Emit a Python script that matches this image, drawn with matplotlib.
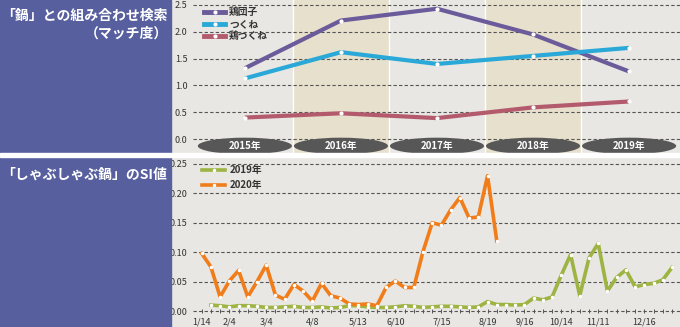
import matplotlib
matplotlib.use("Agg")
import matplotlib.pyplot as plt
from matplotlib.patches import Ellipse, Rectangle
from matplotlib.lines import Line2D
import numpy as np

plt.rcParams['font.family'] = ['Noto Sans CJK JP', 'DejaVu Sans']

# ---------------- data ----------------
years = ["2015年", "2016年", "2017年", "2018年", "2019年"]
top_series_names = ["鶏団子", "つくね", "鶏つくね"]
tori_dango = [1.32, 2.21, 2.43, 1.95, 1.26]
tsukune = [1.13, 1.62, 1.40, 1.55, 1.70]
tori_tsukune = [0.40, 0.48, 0.39, 0.59, 0.70]

week_labels = ["1/14", "2/4", "3/4", "4/8", "5/13", "6/10", "7/15", "8/19",
               "9/16", "10/14", "11/11", "12/16"]
week_label_idx = [0, 3, 7, 12, 17, 21, 26, 31, 35, 39, 43, 48]

si_2020 = [0.098, 0.075, 0.024, 0.051, 0.069, 0.024, 0.050, 0.078, 0.027,
           0.020, 0.045, 0.034, 0.017, 0.047, 0.026, 0.022, 0.012, 0.011,
           0.012, 0.009, 0.040, 0.051, 0.040, 0.040, 0.101, 0.150, 0.146,
           0.172, 0.193, 0.158, 0.160, 0.230, 0.119]
si_2019 = [0.010, 0.009, 0.007, 0.009, 0.009, 0.008, 0.006, 0.006, 0.007,
           0.008, 0.006, 0.006, 0.007, 0.005, 0.006, 0.009, 0.009, 0.007,
           0.006, 0.006, 0.007, 0.009, 0.008, 0.006, 0.007, 0.008, 0.008,
           0.007, 0.006, 0.007, 0.016, 0.011, 0.011, 0.010, 0.011, 0.022,
           0.019, 0.024, 0.061, 0.096, 0.026, 0.090, 0.115, 0.034, 0.057,
           0.070, 0.041, 0.045, 0.047, 0.053, 0.074]
si_2019_start = 1

# ---------------- style ----------------
W, H = 680, 327
BLUE = "#575f9e"
BG = "#e9e7e3"
BAND = "#e6e0cc"
GRID = "#555555"
C_PURPLE = "#6b5b9b"
C_CYAN = "#2aa9d8"
C_RED = "#b45a6d"
C_ORANGE = "#f07d1a"
C_GREEN = "#9db443"

fig = plt.figure(figsize=(W / 100, H / 100), dpi=100, facecolor=BG)

def fr(x0, y0, x1, y1):
    # pixel box (top-left origin) -> figure fraction
    return [x0 / W, (H - y1) / H, (x1 - x0) / W, (y1 - y0) / H]

# left blue panels and white separator
fig.patches.append(Rectangle((0, (H - 153) / H), 171 / W, 153 / H,
                             transform=fig.transFigure, color=BLUE, zorder=0))
fig.patches.append(Rectangle((0, 0), 171 / W, (H - 157) / H,
                             transform=fig.transFigure, color=BLUE, zorder=0))
fig.patches.append(Rectangle((0, (H - 157) / H), 1, 4 / H,
                             transform=fig.transFigure, color="white", zorder=0))

fig.text(84 / W, 1 - 16 / H, "「鍋」との組み合わせ検索", color="white",
         fontsize=10, fontweight="bold", ha="center", va="center")
fig.text(168 / W, 1 - 34 / H, "（マッチ度）", color="white",
         fontsize=10, fontweight="bold", ha="right", va="center")
fig.text(84 / W, 1 - 175 / H, "「しゃぶしゃぶ鍋」のSI値", color="white",
         fontsize=10, fontweight="bold", ha="center", va="center")

# ---------------- top chart ----------------
ax1 = fig.add_axes(fr(193, 0, 680, 153))
ax1.set_facecolor(BG)
x = np.arange(len(years))
ax1.set_xlim(-0.54, 4.53)
ax1.set_ylim(-0.261, 2.593)
for i in x:
    if i % 2 == 1:
        ax1.axvspan(i - 0.5, i + 0.5, color=BAND, zorder=0, lw=0)
for b in [0.5, 1.5, 2.5, 3.5]:
    ax1.axvline(b, color="white", lw=1, zorder=0.5)
for v in np.arange(0, 2.51, 0.5):
    ax1.axhline(v, color=GRID, lw=0.8, ls=(0, (3, 2)), zorder=1)

for vals, c, name in [(tori_dango, C_PURPLE, top_series_names[0]),
                      (tsukune, C_CYAN, top_series_names[1]),
                      (tori_tsukune, C_RED, top_series_names[2])]:
    ax1.plot(x, vals, color=c, lw=3, marker="o", ms=2, mfc="white",
             mec="white", zorder=3, label=name, solid_capstyle="butt")

for i, y in enumerate(years):
    ax1.add_patch(Ellipse((i, -0.13), 0.98, 0.31, color="#575757", zorder=2,
                          lw=0))
    ax1.text(i, -0.13, y, color="white", fontsize=7, fontweight="bold",
             ha="center", va="center", zorder=4)

ax1.set_yticks(np.arange(0, 2.51, 0.5))
ax1.set_yticklabels([f"{v:.1f}" for v in np.arange(0, 2.51, 0.5)])
ax1.set_xticks([])
ax1.tick_params(axis="y", length=0, pad=4, labelsize=6.5, labelcolor="#333333")
for s in ax1.spines.values():
    s.set_visible(False)

leg1 = ax1.legend(handles=[
    Line2D([], [], color=c, lw=3.5, marker="o", ms=2, mfc="white", mec="white")
    for c in [C_PURPLE, C_CYAN, C_RED]], labels=top_series_names,
    loc="upper left", bbox_to_anchor=(11 / 487, 1 - 7 / 153), frameon=False,
    fontsize=7, handlelength=2.2, handletextpad=0.4, labelspacing=0.22,
    borderpad=0, borderaxespad=0, numpoints=1)
for t in leg1.get_texts():
    t.set_fontweight("bold")
    t.set_color("#333333")

# ---------------- bottom chart ----------------
ax2 = fig.add_axes(fr(193, 158, 680, 313))
ax2.set_facecolor(BG)
ax2.set_xlim(-0.94, 51.87)
ax2.set_ylim(-0.0034, 0.2602)
for v in np.arange(0, 0.251, 0.05):
    ax2.axhline(v, color=GRID, lw=0.8, ls=(0, (3, 2)), zorder=1)

x19 = np.arange(si_2019_start, si_2019_start + len(si_2019))
x20 = np.arange(len(si_2020))
ax2.plot(x19, si_2019, color=C_GREEN, lw=2.6, marker="o", ms=1.5,
         mfc="white", mec="white", zorder=3, label="2019年")
ax2.plot(x20, si_2020, color=C_ORANGE, lw=2.6, marker="o", ms=1.5,
         mfc="white", mec="white", zorder=4, label="2020年")

ax2.set_yticks(np.arange(0, 0.251, 0.05))
ax2.set_yticklabels([f"{v:.2f}" for v in np.arange(0, 0.251, 0.05)])
ax2.set_xticks(week_label_idx)
ax2.set_xticklabels(week_labels)
ax2.set_xticks(np.arange(0, 52), minor=True)
ax2.tick_params(axis="y", length=0, pad=4, labelsize=6.5, labelcolor="#333333")
ax2.tick_params(axis="x", which="major", length=3, direction="in", pad=3,
                labelsize=6.5, labelcolor="#333333", color=GRID, width=0.7)
ax2.tick_params(axis="x", which="minor", length=3, direction="in",
                color=GRID, width=0.7)
for s in ax2.spines.values():
    s.set_visible(False)

leg2 = ax2.legend(loc="upper left", bbox_to_anchor=(9 / 487, 1 - 7 / 155),
                  frameon=False, fontsize=7, handlelength=2.4,
                  handletextpad=0.4, labelspacing=0.55, borderpad=0,
                  borderaxespad=0, numpoints=1)
for t in leg2.get_texts():
    t.set_fontweight("bold")
    t.set_color("#333333")

fig.savefig("out.png", dpi=100, facecolor=fig.get_facecolor())
